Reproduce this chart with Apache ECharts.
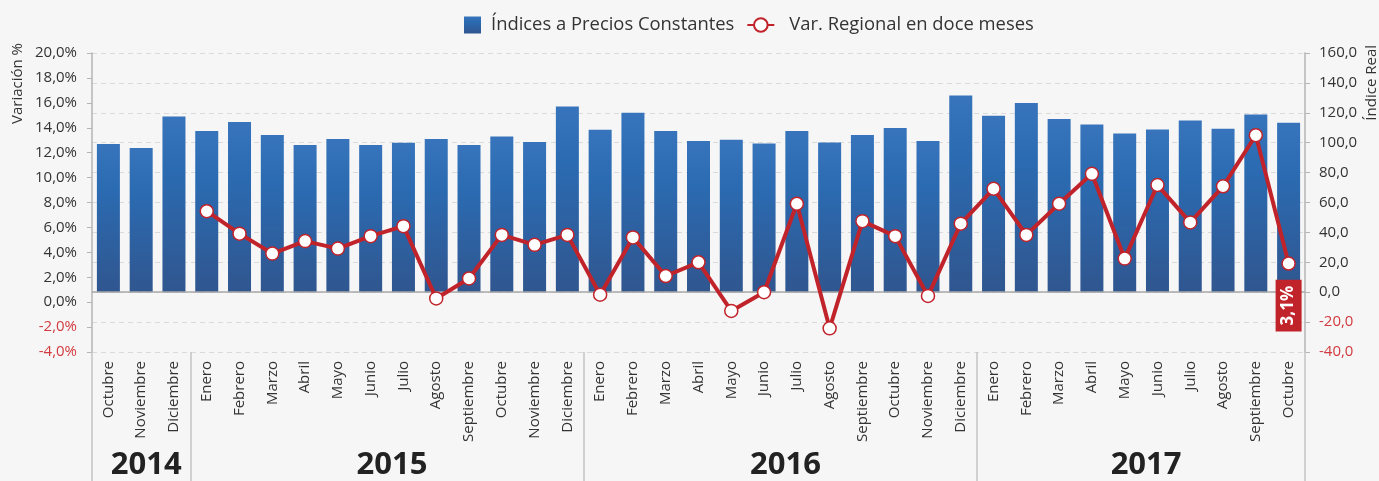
<!DOCTYPE html>
<html><head><meta charset="utf-8">
<script src="https://cdn.jsdelivr.net/npm/echarts@6/dist/echarts.min.js"></script>
<style>html,body{margin:0;padding:0;background:#f6f6f6}#c{width:1379px;height:481px}</style>
</head><body><div id="c"></div>
<script>
const months = ['Octubre','Noviembre','Diciembre',
  'Enero','Febrero','Marzo','Abril','Mayo','Junio','Julio','Agosto','Septiembre','Octubre','Noviembre','Diciembre',
  'Enero','Febrero','Marzo','Abril','Mayo','Junio','Julio','Agosto','Septiembre','Octubre','Noviembre','Diciembre',
  'Enero','Febrero','Marzo','Abril','Mayo','Junio','Julio','Agosto','Septiembre','Octubre'];
const years = ['2014','2015','2016','2017'];
const yearCounts = [3,12,12,10];
const indices = [99.2,96.5,117.5,
  107.9,113.9,105.2,98.5,102.5,98.5,99.9,102.5,98.5,104.1,100.5,124.2,
  108.6,120.1,107.9,101.2,101.9,99.4,107.9,100.1,105.2,109.9,101.2,131.5,
  118.1,126.6,115.9,112.1,106.1,108.8,114.8,109.4,118.8,113.4];
const variation = [null,null,null,
  7.3,5.5,3.9,4.9,4.3,5.3,6.1,0.3,1.9,5.4,4.6,5.4,
  0.6,5.2,2.1,3.2,-0.7,0.8,7.9,-2.1,6.5,5.3,0.5,6.3,
  9.1,5.4,7.9,10.3,3.5,9.4,6.4,9.3,13.4,3.1];
const leftAxisRange = [-4, 20, 2];
const rightAxisRange = [-40, 160, 20];
const seriesNames = ['Índices a Precios Constantes','Var. Regional en doce meses'];
const axisNames = ['Variación %','Índice Real'];

const RED = '#c1232b';
const NEG = '#d23a3f';
const fmt = (v, d) => v.toFixed(d).replace('.', ',');
const boundaries = new Set();
{ let acc = 0; for (const c of yearCounts) { boundaries.add(acc); acc += c; } }

const lineData = variation.map((v, i) => {
  if (i === variation.length - 1) {
    return { value: v, label: {
      show: true, position: 'bottom', distance: 9, rotate: 90, align: 'right', verticalAlign: 'middle',
      formatter: p => fmt(p.value, 1) + '%', color: '#fff', fontWeight: 'bold', fontSize: 17,
      fontFamily: 'Open Sans', backgroundColor: RED, padding: [5, 6, 4, 6]
    } };
  }
  return v;
});

const chart = echarts.init(document.getElementById('c'));
const barGrad = new echarts.graphic.LinearGradient(0, 0, 0, 1, [
  { offset: 0, color: '#3774bb' }, { offset: 0.3, color: '#2b6bb2' }, { offset: 1, color: '#30568f' }
]);
const axisLabelFn = (d, suffix) => v => v < 0 ? '{n|' + fmt(v, d) + suffix + '}' : '{p|' + fmt(v, d) + suffix + '}';
const rich = { n: { color: NEG, fontSize: 15, fontFamily: 'Open Sans' }, p: { color: '#333', fontSize: 15, fontFamily: 'Open Sans' } };

chart.setOption({
  backgroundColor: '#f6f6f6',
  animation: false,
  legend: {
    left: 459, top: 11, itemWidth: 27, itemHeight: 17, itemGap: 12,
    textStyle: { fontFamily: "'Open Sans', sans-serif", fontSize: 18.4, color: '#333' },
    data: [{ name: seriesNames[0], icon: 'path://M0,0L10,0L10,10L0,10Z' },
           { name: seriesNames[1], textStyle: { padding: [0, 0, 0, 10] } }]
  },
  grid: { left: 92, right: 74, top: 53, bottom: 129 },
  xAxis: {
    type: 'category', data: months, boundaryGap: true,
    axisLine: { show: false, onZero: false },
    axisTick: { show: true, interval: (i) => boundaries.has(i), length: 129, lineStyle: { color: '#c4c4c4', width: 1.5 } },
    axisLabel: { interval: 0, rotate: 90, margin: 9, fontSize: 15, color: '#333', fontFamily: 'Open Sans' }
  },
  yAxis: [
    { type: 'value', min: leftAxisRange[0], max: leftAxisRange[1], interval: leftAxisRange[2],
      axisLine: { show: true, lineStyle: { color: '#b5b5b5', width: 1.5 } },
      axisTick: { show: true, length: 5, lineStyle: { color: '#b5b5b5' } },
      splitLine: { show: false },
      axisLabel: { margin: 15, formatter: axisLabelFn(1, '%'), rich } },
    { type: 'value', min: rightAxisRange[0], max: rightAxisRange[1], interval: rightAxisRange[2],
      axisLine: { show: true, lineStyle: { color: '#b5b5b5', width: 1.5 } },
      axisTick: { show: true, length: 5, lineStyle: { color: '#b5b5b5' } },
      splitLine: { show: true, lineStyle: { color: '#dadada', type: [5, 4] } },
      axisLabel: { margin: 14, formatter: axisLabelFn(1, ''), rich } }
  ],
  series: [
    { name: seriesNames[0], type: 'bar', yAxisIndex: 1, data: indices, barWidth: 23,
      itemStyle: { color: barGrad },
      markLine: { silent: true, symbol: 'none', label: { show: false },
        lineStyle: { color: '#a9a9a9', type: 'solid', width: 1.5 }, data: [{ yAxis: 0 }] } },
    { name: seriesNames[1], type: 'line', yAxisIndex: 0, data: lineData, z: 5,
      lineStyle: { color: RED, width: 4 }, itemStyle: { color: '#fff', borderColor: RED, borderWidth: 1.5 },
      symbol: 'circle', symbolSize: 13, showSymbol: true, connectNulls: false }
  ]
});

const graphics = [];
let start = 0;
years.forEach((y, k) => {
  const a = chart.convertToPixel({ xAxisIndex: 0 }, start);
  const b = chart.convertToPixel({ xAxisIndex: 0 }, start + yearCounts[k] - 1);
  graphics.push({ type: 'text', x: (a + b) / 2 + 5, y: 465,
    style: { text: y, align: 'center', verticalAlign: 'middle', font: "bold 31px 'Open Sans'", fill: '#222' } });
  start += yearCounts[k];
});
graphics.push({ type: 'text', x: 18, y: 43, rotation: Math.PI / 2,
  style: { text: axisNames[0], align: 'right', verticalAlign: 'middle', font: "15px 'Open Sans'", fill: '#333' } });
graphics.push({ type: 'text', x: 1372, y: 45, rotation: Math.PI / 2,
  style: { text: axisNames[1], align: 'right', verticalAlign: 'middle', font: "15px 'Open Sans'", fill: '#333' } });
chart.setOption({ graphic: graphics });
</script></body></html>
